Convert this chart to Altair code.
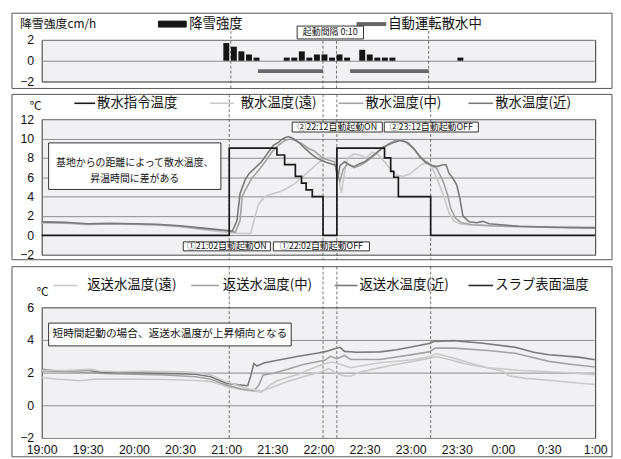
import altair as alt
import pandas as pd

JP = "Noto Sans CJK JP"
NUM = "'Liberation Sans Narrow', 'Liberation Sans', sans-serif"

# ---------------- data (time = minutes after 19:00) ----------------
x_tick_values = list(range(0, 361, 30))
event_times = [122, 183, 192, 253]          # dashed lines 21:02 / 22:02 / 22:12 / 23:12

# panel 1 : snowfall intensity (cm/h) and automatic operation periods
snow_t = [119, 124, 129, 134, 139, 159, 164, 169, 174, 179, 184, 189, 194, 199,
          209, 214, 219, 224, 229, 274]
snow_v = [1.7, 1.35, 0.9, 0.6, 0.3, 0.3, 0.3, 0.9, 0.3, 0.6, 0.6, 0.3, 0.6, 0.3,
          1.05, 0.6, 0.3, 0.3, 0.3, 0.3]
run_start = [140, 201]
run_end = [183, 253]
run_level = [-1, -1]
p1_names = ["降雪強度", "自動運転散水中"]

# panel 2 : sprinkling temperatures
p2_names = ["散水指令温度", "散水温度(遠)", "散水温度(中)", "散水温度(近)"]
p2_colors = ["#1a1a1a", "#c9c9c9", "#a2a2a2", "#7a7a7a"]
cmd_t = [0, 122, 153, 158, 165, 169, 172, 176, 183, 192, 223, 227, 229, 232, 253, 360]
cmd_v = [0, 9, 8.3, 7.3, 6.1, 5.4, 4.7, 4.0, 0, 9, 8.0, 6.6, 6.0, 4.0, 0, 0]
far_t = [0, 15, 30, 45, 60, 75, 90, 105, 118, 130, 136, 138, 141, 145, 150, 155, 160, 165,
         170, 175, 180, 185, 189, 191, 193, 195, 197, 199, 203, 207, 211, 215, 219, 223,
         227, 231, 235, 239, 243, 247, 251, 254, 258, 262, 265, 268, 273, 290, 320, 360]
far_v = [1.3, 1.25, 1.1, 1.2, 1.15, 1.05, 0.9, 0.6, 0.35, 0.2, 0.2, 1.5, 3.2, 4.0, 4.3, 4.5,
         4.9, 5.4, 6.1, 6.8, 7.5, 7.9, 8.0, 7.8, 6.0, 4.4, 6.5, 8.0, 8.4, 8.3, 8.0, 8.6, 8.3,
         7.6, 6.8, 6.2, 6.1, 6.3, 6.8, 7.3, 7.6, 7.0, 5.5, 3.8, 2.3, 1.5, 1.15, 1.0, 0.85, 0.75]
mid_t = [0, 15, 30, 45, 60, 75, 90, 105, 118, 126, 129, 130.4, 132.5, 136.7, 141, 145.4,
         149.7, 154, 158.2, 161.5, 164.7, 169, 173.2, 177.5, 181.8, 186, 190.4, 192, 194,
         196, 199, 203, 207, 211, 216, 221, 226, 230, 234, 238, 242, 246, 250, 254, 257,
         261, 264, 266, 269, 273, 280, 300, 330, 360]
mid_v = [1.35, 1.3, 1.15, 1.2, 1.15, 1.1, 0.95, 0.7, 0.5, 0.35, 1.5, 4.0, 4.7, 5.9, 6.7,
         7.6, 8.6, 9.3, 9.8, 9.95, 9.8, 9.5, 9.0, 8.7, 8.1, 7.8, 7.6, 6.5, 5.6, 6.8, 7.4,
         7.0, 7.2, 7.6, 8.2, 8.9, 9.5, 9.8, 9.9, 9.5, 8.9, 8.2, 7.6, 7.2, 6.9, 5.6, 4.2,
         2.8, 1.8, 1.3, 1.1, 0.95, 0.85, 0.75]
near_t = [0, 15, 30, 45, 60, 75, 90, 105, 118, 124, 127, 129, 132.5, 135, 139, 143, 147.5,
          150.7, 154, 157, 160.4, 163.6, 168, 171, 175.4, 179.7, 184, 188, 191, 192.5, 194,
          197, 200, 203, 207, 210, 216, 222, 229, 233, 238, 242, 246, 250, 254, 257, 261,
          263, 265, 267, 270, 272, 274, 278, 283, 287, 291, 310, 335, 360]
near_v = [1.4, 1.35, 1.2, 1.25, 1.2, 1.15, 1.0, 0.75, 0.55, 0.45, 1.5, 4.3, 5.8, 6.4, 7.0,
          7.6, 8.6, 9.3, 9.6, 10.0, 10.2, 10.0, 9.5, 9.0, 8.4, 7.9, 7.6, 7.4, 7.25, 5.8,
          7.2, 7.6, 7.3, 7.1, 7.4, 7.6, 8.3, 9.1, 9.6, 9.8, 9.6, 9.0, 8.1, 7.5, 7.2, 7.1,
          7.3, 7.3, 6.4, 6.0, 5.2, 3.8, 2.0, 1.4, 1.3, 1.45, 1.2, 0.95, 0.85, 0.8]

# panel 3 : return-water and slab temperatures
p3_names = ["返送水温度(遠)", "返送水温度(中)", "返送水温度(近)", "スラブ表面温度"]
p3_colors = ["#c9c9c9", "#a2a2a2", "#787878", "#2b2b2b"]
rfar_t = [0, 10, 25, 35, 60, 80, 100, 110, 120, 130, 143, 148, 153, 167, 177, 184, 189,
          193, 201, 210, 220, 231, 242, 252, 257, 268, 278, 290, 300, 304, 315, 330, 345, 360]
rfar_v = [1.7, 1.6, 1.5, 1.6, 1.6, 1.58, 1.52, 1.45, 1.15, 0.95, 0.8, 1.2, 1.5, 1.9, 2.3,
          2.55, 2.65, 2.55, 2.3, 2.45, 2.6, 2.7, 2.8, 2.97, 3.15, 2.9, 2.6, 2.3, 2.08, 1.8,
          1.65, 1.53, 1.4, 1.27]
rmid_t = [0, 20, 40, 60, 80, 100, 110, 120, 130, 138, 141, 144, 150, 160, 170, 184, 188,
          192, 197, 201, 220, 241, 252, 256, 268, 290, 308, 330, 345, 360]
rmid_v = [2.1, 2.05, 1.95, 1.9, 1.85, 1.75, 1.6, 1.25, 1.0, 0.9, 1.2, 1.85, 1.95, 2.2, 2.5,
          2.75, 3.0, 2.85, 3.05, 2.8, 2.8, 3.1, 3.27, 3.5, 3.5, 3.35, 3.19, 2.69, 2.5, 2.34]
rnear_t = [0, 10, 30, 40, 60, 80, 100, 110, 120, 128, 134, 136, 138, 140, 145, 156, 167,
           180, 185, 190, 194, 197, 205, 220, 231, 242, 252, 255, 268, 287, 308, 320, 330,
           349, 360]
rnear_v = [2.2, 2.1, 2.15, 2.0, 2.0, 1.95, 1.9, 1.75, 1.35, 1.25, 1.2, 1.8, 2.55, 2.4, 2.6,
           2.8, 3.0, 3.2, 3.3, 3.45, 3.55, 3.3, 3.25, 3.27, 3.4, 3.6, 3.78, 3.9, 3.96, 3.8,
           3.55, 3.25, 3.09, 2.95, 2.79]
slab_t = [0, 15, 32, 38, 50, 70, 90, 100, 110, 120, 128, 135, 143, 150, 160, 170, 180, 187,
          192, 197, 201, 206, 215, 230, 245, 257, 265, 275, 290, 310, 330, 345, 360]
slab_v = [2.15, 2.12, 2.2, 2.1, 2.05, 2.08, 2.05, 2.0, 1.85, 1.45, 1.2, 1.0, 0.87, 1.1,
          1.45, 1.75, 2.0, 2.25, 1.95, 1.8, 1.78, 2.0, 2.2, 2.5, 2.75, 2.97, 2.8, 2.55, 2.3,
          2.15, 2.05, 1.98, 1.88]

# ---------------- helpers ----------------
W = 559
ONE = alt.Data(values=[{"k": 0}])
X_SCALE = alt.Scale(domain=[0, 360], nice=False, zero=False)
X_AXIS = alt.Axis(values=x_tick_values, title=None, ticks=False, domain=False, grid=False,
                  labelPadding=6, labelFont=NUM, labelFontSize=12.5, labelColor="#111",
                  labelFlush=False, labelOverlap=False,
                  labelExpr="(floor(datum.value/60)+19)%24 + ':' + "
                            "(datum.value%60 == 0 ? '00' : '30')")


def xenc(field="t", axis=None):
    return alt.X(f"{field}:Q", scale=X_SCALE, axis=axis, title=None)


def yaxis(values):
    return alt.Axis(values=values, title=None, ticks=False, domain=False, grid=True,
                    gridColor="#8c8c8c", gridWidth=1, labelPadding=8, labelFont=NUM,
                    labelFontSize=12.5, labelColor="#111")


def txt(x, y, s, size, align="left", font=JP):
    return alt.Chart(ONE).mark_text(text=s, align=align, baseline="middle", font=font,
                                    fontSize=size, color="#111").encode(
        x=alt.value(x), y=alt.value(y))


def hline(x0, x1, y, color, width):
    return alt.Chart(ONE).mark_rule(color=color, strokeWidth=width).encode(
        x=alt.value(x0), x2=alt.value(x1), y=alt.value(y))


def box(x0, x1, y0, y1, fill="white", stroke="#333", sw=1, opacity=1):
    return alt.Chart(ONE).mark_rect(fill=fill, fillOpacity=opacity, stroke=stroke,
                                    strokeWidth=sw).encode(
        x=alt.value(x0), x2=alt.value(x1), y=alt.value(y0), y2=alt.value(y1))


def frame(y0, y1):
    return box(-30, 576, y0, y1, stroke="#555", opacity=0)


def dashed(y0, y1, axis=None):
    return alt.Chart(pd.DataFrame({"t": event_times})).mark_rule(
        color="#555", strokeDash=[3, 2], strokeWidth=0.8).encode(
        x=xenc(axis=axis), y=alt.value(y0), y2=alt.value(y1))


def long_df(names, ts, vs):
    rows = []
    for n, tt, vv in zip(names, ts, vs):
        rows += [{"s": n, "t": a, "v": b} for a, b in zip(tt, vv)]
    return pd.DataFrame(rows)


def legend(names, colors, sw_x, lab_x, y, size):
    out = []
    for n, c, (a, b), lx in zip(names, colors, sw_x, lab_x):
        out.append(hline(a, b, y, c, 1.6))
        out.append(txt(lx, y, n, size))
    return out


# ---------------- panel 1 ----------------
y1s = alt.Scale(domain=[-2, 2], nice=False, zero=False)
snow_df = pd.DataFrame({"t": snow_t, "v": snow_v})
run_df = pd.DataFrame({"s": run_start, "e": run_end, "v": run_level})

p1 = alt.layer(
    frame(-27, 49),
    dashed(-9, 49),
    alt.Chart(snow_df).mark_bar(size=6, color="#151515").encode(
        x=xenc(), y=alt.Y("v:Q", scale=y1s, axis=yaxis([-2, 0, 2]), title=None),
        y2=alt.datum(0)),
    alt.Chart(run_df).mark_rule(strokeWidth=4, color="#686868").encode(
        x=xenc("s"), x2="e:Q",
        y=alt.Y("v:Q", scale=y1s, axis=yaxis([-2, 0, 2]), title=None)),
    txt(-22, -16, "降雪強度cm/h", 12),
    box(118, 146, -19, -13, fill="#151515", stroke="#151515"),
    txt(149, -16, p1_names[0], 13.5),
    hline(318, 348, -16, "#686868", 4),
    txt(350, -16, p1_names[1], 13.5),
    box(258, 325, -14, -1),
    txt(291.5, -7.5, "起動間隔 0:10", 9, align="center"),
).properties(width=W, height=42)

# ---------------- panel 2 ----------------
y2s = alt.Scale(domain=[-2, 12], nice=False, zero=False)
y2ax = yaxis(list(range(-2, 13, 2)))
temp_df = long_df(p2_names[1:], [far_t, mid_t, near_t], [far_v, mid_v, near_v])
cmd_df = pd.DataFrame({"t": cmd_t, "v": cmd_v})

p2 = alt.layer(
    frame(-25, 142),
    dashed(-25, 142),
    alt.Chart(temp_df).mark_line(strokeWidth=1.6).encode(
        x=xenc(), y=alt.Y("v:Q", scale=y2s, axis=y2ax, title=None),
        color=alt.Color("s:N", scale=alt.Scale(domain=p2_names[1:], range=p2_colors[1:]),
                        legend=None)),
    alt.Chart(cmd_df).mark_line(strokeWidth=1.7, color=p2_colors[0],
                                interpolate="step-after").encode(
        x=xenc(), y=alt.Y("v:Q", scale=y2s, axis=y2ax, title=None)),
    txt(-6, -13, "℃", 12, align="center"),
    *legend(p2_names, p2_colors, [(33, 54), (170, 194), (300, 325), (431, 456)],
            [56, 201, 327, 458], -16, 13.5),
    box(7, 181, 24, 71),
    txt(94, 44, "基地からの距離によって散水温度、", 10, align="center"),
    txt(94, 60, "昇温時間に差がある", 10, align="center"),
    box(143, 231, 124, 133),
    txt(187, 128.5, "①21:02自動起動ON", 9, align="center"),
    box(234, 331, 124, 133),
    txt(282.5, 128.5, "①22:02自動起動OFF", 9, align="center"),
    box(253, 344, 3, 13),
    txt(298.5, 8, "②22:12自動起動ON", 9, align="center"),
    box(346, 441, 3, 13),
    txt(393.5, 8, "②23:12自動起動OFF", 9, align="center"),
).properties(width=W, height=137)

# ---------------- panel 3 ----------------
y3s = alt.Scale(domain=[-2, 6], nice=False, zero=False)
ret_df = long_df(p3_names, [rfar_t, rmid_t, rnear_t, slab_t],
                 [rfar_v, rmid_v, rnear_v, slab_v])

p3 = alt.layer(
    frame(-41, 151),
    dashed(-41, 132, axis=X_AXIS),
    alt.Chart(ret_df).mark_line(strokeWidth=1.6).encode(
        x=xenc(axis=X_AXIS),
        y=alt.Y("v:Q", scale=y3s, axis=yaxis([-2, 0, 2, 4, 6]), title=None),
        color=alt.Color("s:N", scale=alt.Scale(domain=p3_names, range=p3_colors),
                        legend=None)),
    txt(1, -15, "℃", 12, align="center"),
    *legend(p3_names, p3_colors, [(12, 36), (151, 179), (296, 319), (431, 456)],
            [46, 183, 321, 458], -22, 13.5),
    box(7, 252, 16, 39),
    txt(129.5, 27.5, "短時間起動の場合、返送水温度が上昇傾向となる", 10.8, align="center"),
).properties(width=W, height=132)

chart = alt.vconcat(p1, p2, p3, spacing=4).properties(
    padding={"left": 3, "top": 2, "right": 0, "bottom": 0}
).configure_view(fill="#f1f1f3", stroke="#333", strokeWidth=1)

chart.save("out.html", embed_options={"renderer": "svg", "actions": False})
